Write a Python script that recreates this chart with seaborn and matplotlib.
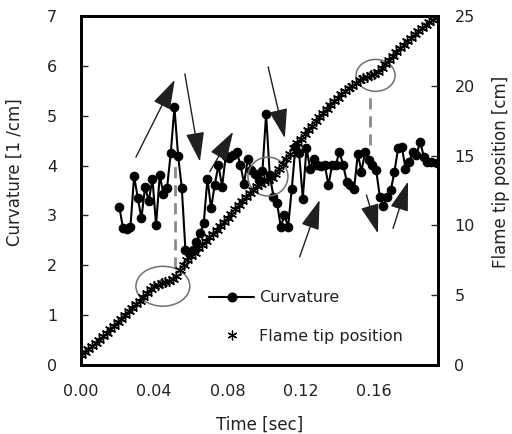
import numpy as np
import pandas as pd
import matplotlib
matplotlib.use("Agg")
import matplotlib.pyplot as plt
import seaborn as sns
from matplotlib.lines import Line2D
from matplotlib.patches import Ellipse
from matplotlib.ticker import MultipleLocator, FixedLocator

# curvature samples (time [s], curvature [1/cm])
curv_time = [
    0.021, 0.023, 0.025, 0.027, 0.029, 0.031, 0.033, 0.035, 0.037, 0.039,
    0.041, 0.043, 0.045, 0.047, 0.049, 0.051, 0.053, 0.055, 0.057, 0.059,
    0.061, 0.063, 0.065, 0.067, 0.069, 0.071, 0.073, 0.075, 0.077, 0.079,
    0.081, 0.083, 0.085, 0.087, 0.089, 0.091, 0.093, 0.095, 0.097, 0.099,
    0.101, 0.103, 0.105, 0.107, 0.109, 0.111, 0.113, 0.115, 0.117, 0.119,
    0.121, 0.123, 0.125, 0.127, 0.129, 0.131, 0.133, 0.135, 0.137, 0.139,
    0.141, 0.143, 0.145, 0.147, 0.149, 0.151, 0.153, 0.155, 0.157, 0.159,
    0.161, 0.163, 0.165, 0.167, 0.169, 0.171, 0.173, 0.175, 0.177, 0.179,
    0.181, 0.183, 0.185, 0.187, 0.189, 0.191, 0.194,
]
curvature = [
    3.16, 2.74, 2.72, 2.76, 3.79, 3.36, 2.94, 3.58, 3.28, 3.74,
    2.81, 3.81, 3.43, 3.56, 4.25, 5.17, 4.20, 3.56, 2.31, 2.24,
    2.30, 2.47, 2.64, 2.85, 3.74, 3.14, 3.62, 4.01, 3.58, 4.20,
    4.15, 4.21, 4.28, 4.01, 3.64, 4.14, 3.91, 3.84, 3.72, 3.90,
    5.03, 3.81, 3.38, 3.24, 2.77, 3.01, 2.77, 3.54, 4.38, 4.25,
    3.34, 4.35, 3.94, 4.14, 4.01, 4.00, 4.01, 3.61, 4.01, 4.01,
    4.28, 4.01, 3.68, 3.61, 3.54, 4.24, 3.88, 4.28, 4.11, 4.01,
    3.91, 3.38, 3.18, 3.38, 3.51, 3.88, 4.35, 4.38, 3.94, 4.08,
    4.28, 4.21, 4.48, 4.18, 4.08, 4.08, 4.05,
]

# flame tip position samples (time [s], position [cm])
tip_time = [
    0.000, 0.002, 0.004, 0.006, 0.008, 0.010, 0.012, 0.014, 0.016, 0.018,
    0.020, 0.022, 0.024, 0.026, 0.028, 0.030, 0.032, 0.034, 0.036, 0.038,
    0.040, 0.042, 0.044, 0.046, 0.048, 0.050, 0.052, 0.054, 0.056, 0.058,
    0.060, 0.062, 0.064, 0.066, 0.068, 0.070, 0.072, 0.074, 0.076, 0.078,
    0.080, 0.082, 0.084, 0.086, 0.088, 0.090, 0.092, 0.094, 0.096, 0.098,
    0.100, 0.102, 0.104, 0.106, 0.108, 0.110, 0.112, 0.114, 0.116, 0.118,
    0.120, 0.122, 0.124, 0.126, 0.128, 0.130, 0.132, 0.134, 0.136, 0.138,
    0.140, 0.142, 0.144, 0.146, 0.148, 0.150, 0.152, 0.154, 0.156, 0.158,
    0.160, 0.162, 0.164, 0.166, 0.168, 0.170, 0.172, 0.174, 0.176, 0.178,
    0.180, 0.182, 0.184, 0.186, 0.188, 0.190, 0.192, 0.194,
]
tip_pos = [
    0.70, 0.95, 1.15, 1.35, 1.60, 1.80, 2.05, 2.30, 2.55, 2.78,
    3.05, 3.30, 3.55, 3.85, 4.10, 4.35, 4.62, 4.89, 5.15, 5.45,
    5.65, 5.75, 5.85, 5.92, 6.02, 6.15, 6.35, 6.80, 7.20, 7.55,
    7.80, 8.05, 8.35, 8.62, 8.90, 9.15, 9.42, 9.68, 9.95, 10.25,
    10.55, 10.85, 11.15, 11.45, 11.75, 12.05, 12.30, 12.55, 12.80, 13.00,
    13.15, 13.25, 13.40, 13.70, 14.05, 14.42, 14.78, 15.15, 15.52, 15.90,
    16.22, 16.55, 16.85, 17.15, 17.45, 17.78, 18.05, 18.35, 18.62, 18.90,
    19.15, 19.40, 19.62, 19.85, 20.02, 20.20, 20.40, 20.55, 20.65, 20.75,
    20.85, 21.00, 21.25, 21.55, 21.85, 22.15, 22.45, 22.70, 22.95, 23.20,
    23.45, 23.70, 23.95, 24.15, 24.35, 24.55, 24.75, 24.95,
]

curv_df = pd.DataFrame({"time": curv_time, "curvature": curvature})
tip_df = pd.DataFrame({"time": tip_time, "position": tip_pos})

sns.set_style("white")
plt.rcParams["font.family"] = ["DejaVu Sans"]
plt.rcParams["font.size"] = 11.5

fig = plt.figure(figsize=(5.12, 4.34), dpi=100)
ax = fig.add_axes([0.158, 0.159, 0.697, 0.804])
ax2 = ax.twinx()

sns.lineplot(data=curv_df, x="time", y="curvature", ax=ax, color="black",
             lw=1.5, marker="o", markersize=6.2, markeredgecolor="black",
             sort=False, legend=False, zorder=3)
sns.lineplot(data=tip_df, x="time", y="position", ax=ax2, color="black",
             linestyle="none", marker=(6, 2, 0), markersize=8,
             markeredgecolor="black", markeredgewidth=1.0, sort=False,
             legend=False)

ax.set_xlim(0, 0.1946)
ax.set_ylim(0, 7)
ax2.set_ylim(0, 25)

ax.xaxis.set_major_locator(FixedLocator([0.0, 0.04, 0.08, 0.12, 0.16]))
ax.xaxis.set_minor_locator(MultipleLocator(0.01))
ax.yaxis.set_major_locator(MultipleLocator(1))
ax2.yaxis.set_major_locator(MultipleLocator(5))
ax.xaxis.set_major_formatter(plt.FuncFormatter(lambda v, p: f"{v:.2f}"))

for a in (ax, ax2):
    for s in a.spines.values():
        s.set_linewidth(2)
        s.set_color("black")
ax.tick_params(axis="x", which="both", direction="in", length=5, width=1,
               pad=14, colors="black", labelcolor="#222222", labelsize=11.5)
ax.tick_params(axis="y", direction="in", length=5, width=1, pad=17,
               left=True, labelcolor="#222222", labelsize=11.5)
ax2.tick_params(axis="y", direction="in", length=5, width=1, pad=12,
                right=True, labelcolor="#222222", labelsize=11.5)

ax.set_xlabel("Time [sec]", color="#222222", fontsize=12)
ax.set_ylabel("Curvature [1 /cm]", color="#222222", fontsize=12)
ax2.set_ylabel("Flame tip position [cm]", color="#222222", fontsize=12)
ax.xaxis.set_label_coords(0.5, -0.145)
ax.yaxis.set_label_coords(-0.16, 0.553)
ax2.yaxis.set_label_coords(1.152, 0.553)

# circled regions and dashed guides
for cx, cy, w, h in [(0.0447, 1.58, 0.0294, 0.80),
                     (0.1020, 3.78, 0.0218, 0.78),
                     (0.1607, 5.81, 0.0213, 0.64)]:
    ax.add_patch(Ellipse((cx, cy), w, h, fill=False, ec="#707070", lw=1.1,
                         zorder=4))
for x0, y0, y1 in [(0.0512, 1.94, 3.99), (0.1575, 4.41, 5.48)]:
    ax.plot([x0, x0], [y0, y1], color="#8a8a8a", lw=2, ls=(0, (4, 2.5)),
            zorder=2)

# arrows (tail -> head)
arrows = [((0.0300, 4.17), (0.0512, 5.72)),
          ((0.0567, 5.84), (0.0649, 4.08)),
          ((0.0703, 3.88), (0.0830, 4.68)),
          ((0.1021, 5.98), (0.1112, 4.55)),
          ((0.1193, 2.17), (0.1302, 3.31)),
          ((0.1557, 3.41), (0.1620, 2.64)),
          ((0.1702, 2.74), (0.1784, 3.68))]
for tail, head in arrows:
    ax.annotate("", xy=head, xytext=tail, zorder=5,
                arrowprops=dict(arrowstyle="-|>,head_length=1.6,head_width=0.5",
                                color="#202020", lw=1.0, shrinkA=0, shrinkB=0))

handles = [Line2D([], [], color="black", lw=1.5, marker="o", markersize=6.2),
           Line2D([], [], color="black", ls="none", marker=(6, 2, 0),
                  markersize=7, markeredgewidth=0.9)]
ax2.legend(handles, ["Curvature", "Flame tip position"], loc="upper left",
           bbox_to_anchor=(0.32, 0.255), frameon=False, handlelength=2.8,
           handletextpad=0.3, labelspacing=1.45, fontsize=11.5,
           labelcolor="#222222")

fig.savefig("out.png", dpi=100)
